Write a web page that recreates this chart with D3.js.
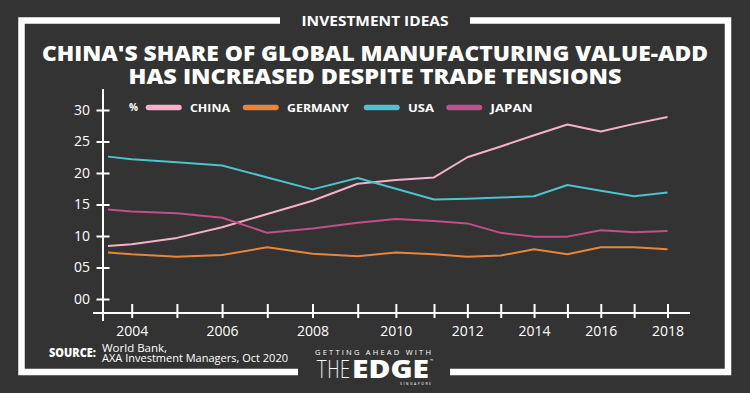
<!DOCTYPE html>
<html>
<head>
<meta charset="utf-8">
<script src="https://cdn.jsdelivr.net/npm/d3@7"></script>
<style>
  html, body { margin: 0; padding: 0; background: #333333; }
  svg { display: block; }
</style>
</head>
<body>
<div id="chart"></div>
<script>
// data (share of global manufacturing value-add, %)
const years   = [2003, 2004, 2005, 2006, 2007, 2008, 2009, 2010, 2011, 2012, 2013, 2014, 2015, 2016, 2017, 2018];
const china   = [8.4, 8.7, 9.7, 11.4, 13.5, 15.6, 18.3, 18.9, 19.3, 22.5, 24.2, 26.0, 27.7, 26.6, 27.8, 28.9];
const germany = [7.4, 7.1, 6.7, 7.0, 8.2, 7.2, 6.8, 7.4, 7.1, 6.7, 6.9, 7.9, 7.1, 8.2, 8.2, 7.9];
const usa     = [22.6, 22.2, 21.7, 21.2, 19.3, 17.4, 19.2, 17.5, 15.8, 15.9, 16.1, 16.3, 18.1, 17.2, 16.3, 16.9];
const japan   = [14.2, 13.9, 13.6, 12.9, 10.5, 11.2, 12.1, 12.7, 12.4, 12.0, 10.5, 9.9, 9.9, 10.9, 10.6, 10.8];
const seriesNames = ["CHINA", "GERMANY", "USA", "JAPAN"];
const seriesColors = ["#f5b0cc", "#e8853d", "#4cc3cf", "#c24f8b"];
const yTicks = [0, 5, 10, 15, 20, 25, 30];
const xTickYears = [2004, 2005, 2006, 2007, 2008, 2009, 2010, 2011, 2012, 2013, 2014, 2015, 2016, 2017, 2018];

const width = 750, height = 393;
const bg = "#333333";

const svg = d3.select('#chart')
  .append('svg')
  .attr('width', width)
  .attr('height', height);

svg.append('rect').attr('width', width).attr('height', height).attr('fill', bg);

// frame with gaps at top (label) and bottom (logo)
svg.append('path')
  .attr('d', 'M280,20.5 H21.5 V372 H298 M450,372 H728 V20.5 H470')
  .attr('fill', 'none')
  .attr('stroke', '#fff')
  .attr('stroke-width', 6.5);

svg.append('text')
  .attr('x', 375).attr('y', 26)
  .attr('text-anchor', 'middle')
  .attr('fill', '#fff')
  .attr('font-family', 'Open Sans, sans-serif')
  .attr('font-weight', 700)
  .attr('font-size', 15)
  .attr('textLength', 147)
  .attr('lengthAdjust', 'spacingAndGlyphs')
  .text('INVESTMENT IDEAS');

// title
const titleLines = ["CHINA'S SHARE OF GLOBAL MANUFACTURING VALUE-ADD", "HAS INCREASED DESPITE TRADE TENSIONS"];
const titleWidths = [666, 493];
svg.append('g')
  .attr('fill', '#fff')
  .attr('font-family', 'Open Sans, sans-serif')
  .attr('font-weight', 800)
  .attr('font-size', 21.5)
  .attr('text-anchor', 'middle')
  .selectAll('text')
  .data(titleLines)
  .join('text')
    .attr('x', 375)
    .attr('y', (d, i) => 61 + i * 22.5)
    .attr('textLength', (d, i) => titleWidths[i])
    .attr('lengthAdjust', 'spacingAndGlyphs')
    .text(d => d);

// scales
// the source chart spaces its years unevenly, so x is piecewise linear
const x = d3.scaleLinear()
  .domain([2003, 2004, 2009, 2011, 2018])
  .range([108, 131.7, 357.7, 434, 667.5]);

const y = d3.scaleLinear()
  .domain([0, 30])
  .range([299, 110]);

const axisFont = 'Open Sans, sans-serif';

// y axis
const yAxis = d3.axisLeft(y)
  .tickValues(yTicks)
  .tickSize(6)
  .tickPadding(7)
  .tickFormat(d3.format('02d'));

const gy = svg.append('g')
  .attr('transform', 'translate(103,0)')
  .call(yAxis);
gy.select('.domain').remove();
gy.selectAll('.tick line').attr('x1', 6.5).attr('x2', -6.5).attr('stroke', '#fff').attr('stroke-width', 2);
gy.selectAll('.tick text').attr('fill', '#fff').attr('font-size', 14).attr('font-family', axisFont);
gy.append('line').attr('x1', 0).attr('x2', 0).attr('y1', 89).attr('y2', 321)
  .attr('stroke', '#fff').attr('stroke-width', 2);

// x axis
const xAxis = d3.axisBottom(x)
  .tickValues(xTickYears)
  .tickSize(5)
  .tickPadding(8)
  .tickFormat(d => d % 2 === 0 ? d : '');

const gx = svg.append('g')
  .attr('transform', 'translate(0,313)')
  .call(xAxis);
gx.select('.domain').remove();
gx.selectAll('.tick line').attr('y1', -9).attr('y2', 5).attr('stroke', '#fff').attr('stroke-width', 2);
gx.selectAll('.tick text').attr('fill', '#fff').attr('font-size', 14).attr('font-family', axisFont);
gx.append('line').attr('x1', 93).attr('x2', 690).attr('y1', 0).attr('y2', 0)
  .attr('stroke', '#fff').attr('stroke-width', 2);

// lines
const series = [china, germany, usa, japan];
const line = d3.line()
  .x((d, i) => x(years[i]))
  .y(d => y(d));

svg.append('g')
  .selectAll('path')
  .data(series)
  .join('path')
    .attr('d', d => line(d))
    .attr('fill', 'none')
    .attr('stroke', (d, i) => seriesColors[i])
    .attr('stroke-width', 2)
    .attr('stroke-linejoin', 'round');

// legend
const legend = svg.append('g')
  .attr('font-family', 'Open Sans, sans-serif')
  .attr('font-weight', 700)
  .attr('fill', '#fff');

legend.append('text')
  .attr('x', 129).attr('y', 111)
  .attr('font-size', 10)
  .text('%');

const legendX = [146, 243, 364, 446.5];
const legendTextW = [40, 62, 26, 42];
seriesNames.forEach((name, i) => {
  legend.append('line')
    .attr('x1', legendX[i] + 2.5).attr('x2', legendX[i] + 33)
    .attr('y1', 107.5).attr('y2', 107.5)
    .attr('stroke', seriesColors[i])
    .attr('stroke-width', 5.5)
    .attr('stroke-linecap', 'round');
  legend.append('text')
    .attr('x', legendX[i] + 44).attr('y', 111.5)
    .attr('font-size', 11)
    .attr('textLength', legendTextW[i])
    .attr('lengthAdjust', 'spacingAndGlyphs')
    .text(name);
});

// source
const source = svg.append('g').attr('fill', '#fff').attr('font-family', 'Open Sans, sans-serif');
source.append('text')
  .attr('x', 49).attr('y', 356.5)
  .attr('font-weight', 800).attr('font-size', 12)
  .attr('textLength', 47).attr('lengthAdjust', 'spacingAndGlyphs')
  .text('SOURCE:');
source.append('text')
  .attr('x', 102).attr('y', 352)
  .attr('font-size', 11.5)
  .text('World Bank,');
source.append('text')
  .attr('x', 102).attr('y', 361.5)
  .attr('font-size', 11.5)
  .attr('textLength', 186).attr('lengthAdjust', 'spacingAndGlyphs')
  .text('AXA Investment Managers, Oct 2020');

// logo
const logo = svg.append('g').attr('fill', '#fff');
logo.append('text')
  .attr('x', 315).attr('y', 355)
  .attr('font-family', 'Open Sans, sans-serif')
  .attr('font-size', 7.5)
  .attr('textLength', 116).attr('lengthAdjust', 'spacing')
  .text('GETTING AHEAD WITH');
logo.append('text')
  .attr('x', 316.5).attr('y', 377.5)
  .attr('font-family', 'DejaVu Sans, sans-serif')
  .attr('font-weight', 200)
  .attr('font-size', 25)
  .attr('textLength', 34).attr('lengthAdjust', 'spacingAndGlyphs')
  .text('THE');
logo.append('text')
  .attr('x', 352).attr('y', 377.5)
  .attr('font-family', 'Open Sans, sans-serif')
  .attr('font-weight', 800)
  .attr('font-size', 25)
  .attr('textLength', 77).attr('lengthAdjust', 'spacingAndGlyphs')
  .text('EDGE');
logo.append('text')
  .attr('x', 430).attr('y', 362)
  .attr('font-family', 'Open Sans, sans-serif')
  .attr('font-size', 4)
  .text('™');
logo.append('text')
  .attr('x', 400).attr('y', 385)
  .attr('font-family', 'Open Sans, sans-serif')
  .attr('font-size', 3.5)
  .attr('textLength', 31).attr('lengthAdjust', 'spacing')
  .text('SINGAPORE');
</script>
</body>
</html>
